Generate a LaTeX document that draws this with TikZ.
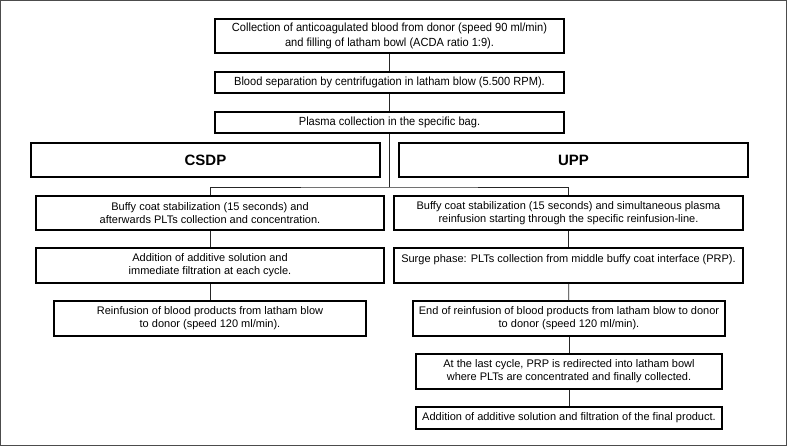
\documentclass[tikz,border=0pt]{standalone}
\usepackage{fontspec}
\setmainfont{Liberation Sans}
\newfontfamily\narrowfont[FakeStretch=0.94]{Liberation Sans}
\begin{document}
\begin{tikzpicture}[x=1pt,y=-1pt,
  box/.style={draw=black, line width=1.6pt, align=center, inner sep=0pt, font=\fontsize{11}{13.3}\selectfont},
  topbox/.style={box, font=\narrowfont\fontsize{11.8}{14.5}\selectfont},
  headbox/.style={draw=black, line width=2pt, align=center, inner sep=0pt, font=\fontsize{15}{17}\selectfont\bfseries},
  conn/.style={draw=black!85, line width=0.7pt}]
\useasboundingbox (0,0) rectangle (787,446);
\draw[black!70, line width=1.2pt] (0.6,0.6) rectangle (786.4,445.4);
% top chain
\node[topbox, minimum width=349pt, minimum height=34pt] (b1) at (389.5,36)
  {Collection of anticoagulated blood from donor (speed 90 ml/min)\\and filling of latham bowl (ACDA ratio 1:9).};
\node[topbox, minimum width=349pt, minimum height=21pt] (b2) at (389.5,82.5)
  {Blood separation by centrifugation in latham blow (5.500 RPM).};
\node[topbox, minimum width=349pt, minimum height=21pt] (b3) at (389.5,122.5)
  {Plasma collection in the specific bag.};
% headers
\node[headbox, minimum width=349pt, minimum height=34pt] (csdp) at (205.5,160) {CSDP};
\node[headbox, minimum width=349pt, minimum height=34pt] (upp) at (573.5,160) {UPP};
% left column
\node[box, minimum width=348pt, minimum height=34pt] (la) at (210,213)
  {Buffy coat stabilization (15 seconds) and\\afterwards PLTs collection and concentration.};
\node[box, minimum width=348pt, minimum height=35pt] (lb) at (210,265.5)
  {Addition of additive solution and\\immediate filtration at each cycle.};
\node[box, minimum width=312pt, minimum height=35pt] (lc) at (210,318.5)
  {Reinfusion of blood products from latham blow\\to donor (speed 120 ml/min).};
% right column
\node[box, minimum width=349pt, minimum height=34pt] (ra) at (568.5,213)
  {Buffy coat stabilization (15 seconds) and simultaneous plasma\\reinfusion starting through the specific reinfusion-line.};
\node[box, minimum width=349pt, minimum height=35pt] (rb) at (568.5,265.5)
  {Surge phase: PLTs collection from middle buffy coat interface (PRP).\\\mbox{}};
\node[box, minimum width=312pt, minimum height=35pt] (rc) at (569,318.5)
  {End of reinfusion of blood products from latham blow to donor\\to donor (speed 120 ml/min).};
\node[box, minimum width=306pt, minimum height=35pt] (rd) at (569,371.5)
  {At the last cycle, PRP is redirected into latham bowl\\where PLTs are concentrated and finally collected.};
\node[box, minimum width=306pt, minimum height=22pt] (re) at (569,418)
  {Addition of additive solution and filtration of the final product.};
% connectors
\coordinate (j) at (389.5,187);
\draw[conn] (b1) -- (b2);
\draw[conn] (b2) -- (b3);
\draw[conn] (b3.south) -- (j);
\draw[conn] (la.north) |- (j) -| (ra.north);
\draw[conn] (la) -- (lb);
\draw[conn] (lb) -- (lc);
\draw[conn] (ra) -- (rb);
\draw[conn] (rb) -- (rc);
\draw[conn] (rc) -- (rd);
\draw[conn] (rd) -- (re);
\end{tikzpicture}
\end{document}
